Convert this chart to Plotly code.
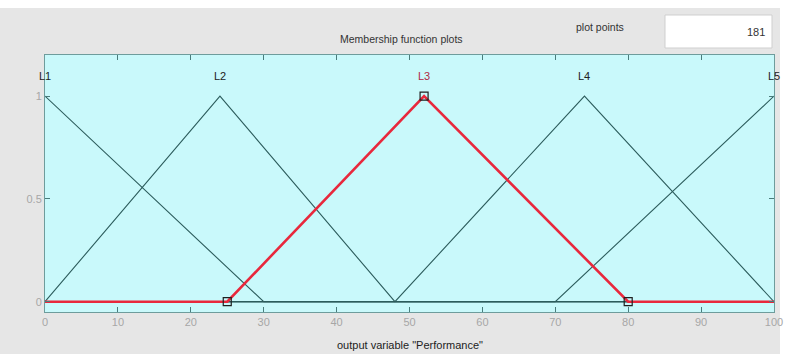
import plotly.graph_objects as go

# Output variable "Performance": triangular membership functions [a, b, c]
mf_names = ["L1", "L2", "L3", "L4", "L5"]
mf_a = [-30, 0, 25, 48, 70]
mf_b = [0, 24, 52, 74, 100]
mf_c = [30, 48, 80, 100, 130]
selected = "L3"

x_range = [0, 100]
y_ticks = [0, 0.5, 1]
x_ticks = [0, 10, 20, 30, 40, 50, 60, 70, 80, 90, 100]
plot_points = 181

LINE = "#2c5c5c"
RED = "#e8283c"
BG = "#e6e6e6"
PLOT_BG = "#c9f9fb"


def trimf(x, a, b, c):
    left = (x - a) / (b - a) if b != a else 1.0
    right = (c - x) / (c - b) if c != b else 1.0
    return max(min(left, right), 0.0)


def vertices(a, b, c):
    xs = sorted({x_range[0], x_range[1]} | {v for v in (a, b, c) if x_range[0] <= v <= x_range[1]})
    return xs, [trimf(x, a, b, c) for x in xs]


fig = go.Figure()

# baseline at zero membership
fig.add_trace(go.Scatter(x=x_range, y=[0, 0], mode="lines",
                         line=dict(color=LINE, width=1.2), hoverinfo="skip", showlegend=False))

for name, a, b, c in zip(mf_names, mf_a, mf_b, mf_c):
    if name == selected:
        continue
    xs, ys = vertices(a, b, c)
    fig.add_trace(go.Scatter(x=xs, y=ys, mode="lines",
                             line=dict(color=LINE, width=1.1), showlegend=False))

for name, a, b, c in zip(mf_names, mf_a, mf_b, mf_c):
    if name != selected:
        continue
    xs, ys = vertices(a, b, c)
    fig.add_trace(go.Scatter(x=xs, y=ys, mode="lines",
                             line=dict(color=RED, width=2.6), showlegend=False))
    fig.add_trace(go.Scatter(x=[a, b, c], y=[trimf(v, a, b, c) for v in (a, b, c)],
                             mode="markers",
                             marker=dict(symbol="square-open", size=8, color="#202020",
                                         line=dict(width=1.2)),
                             showlegend=False))

# function name labels above each peak
for name, b in zip(mf_names, mf_b):
    fig.add_annotation(x=b, y=1.1, text=name, showarrow=False, yanchor="middle",
                       font=dict(size=11, color="#b02a44" if name == selected else "#222222"))

# grey panel behind everything, then the cyan axes area on top of it
fig.add_shape(type="rect", xref="paper", yref="paper", layer="below",
              x0=-45 / 729, x1=(780 - 45) / 729, y0=-42 / 257, y1=(312 - 8) / 257,
              fillcolor=BG, line=dict(width=0))
fig.add_shape(type="rect", xref="paper", yref="paper", layer="below",
              x0=0, x1=1, y0=0, y1=1,
              fillcolor=PLOT_BG, line=dict(width=0))
fig.add_shape(type="rect", xref="paper", yref="paper",
              x0=(665 - 45) / 729, x1=(772 - 45) / 729,
              y0=(312 - 48) / 257, y1=(312 - 15) / 257,
              fillcolor="white", line=dict(color="#cfcfcf", width=1))
fig.add_annotation(xref="paper", yref="paper", x=(767 - 45) / 729, y=(312 - 32) / 257,
                   text=str(plot_points), showarrow=False, xanchor="right", yanchor="middle",
                   font=dict(size=11, color="#333333"))
fig.add_annotation(xref="paper", yref="paper", x=(600 - 45) / 729, y=(312 - 27) / 257,
                   text="plot points", showarrow=False, xanchor="center", yanchor="middle",
                   font=dict(size=10.5, color="#333333"))
fig.add_annotation(xref="paper", yref="paper", x=(401 - 45) / 729, y=(312 - 39) / 257,
                   text="Membership function plots", showarrow=False, xanchor="center",
                   yanchor="middle", font=dict(size=10.5, color="#333333"))
fig.add_annotation(xref="paper", yref="paper", x=(410 - 45) / 729, y=(312 - 345) / 257,
                   text='output variable "Performance"', showarrow=False, xanchor="center",
                   yanchor="middle", font=dict(size=11, color="#222222"))

axis_common = dict(showgrid=False, zeroline=False, ticks="inside", ticklen=5,
                   tickcolor="#4a7c7c", mirror="allticks", showline=True,
                   linecolor="#6e9c9c", linewidth=1,
                   tickfont=dict(size=11, color="#a6a6a6"))

fig.update_layout(
    width=794, height=354,
    margin=dict(l=45, r=20, t=55, b=42),
    paper_bgcolor="white",
    plot_bgcolor=PLOT_BG,
    font=dict(family="Liberation Sans, Arial, sans-serif"),
    xaxis=dict(range=x_range, tickvals=x_ticks, **axis_common),
    yaxis=dict(range=[-0.05, 1.2], tickvals=y_ticks, ticktext=["0", "0.5", "1"], **axis_common),
)

fig.write_html("out.html")
